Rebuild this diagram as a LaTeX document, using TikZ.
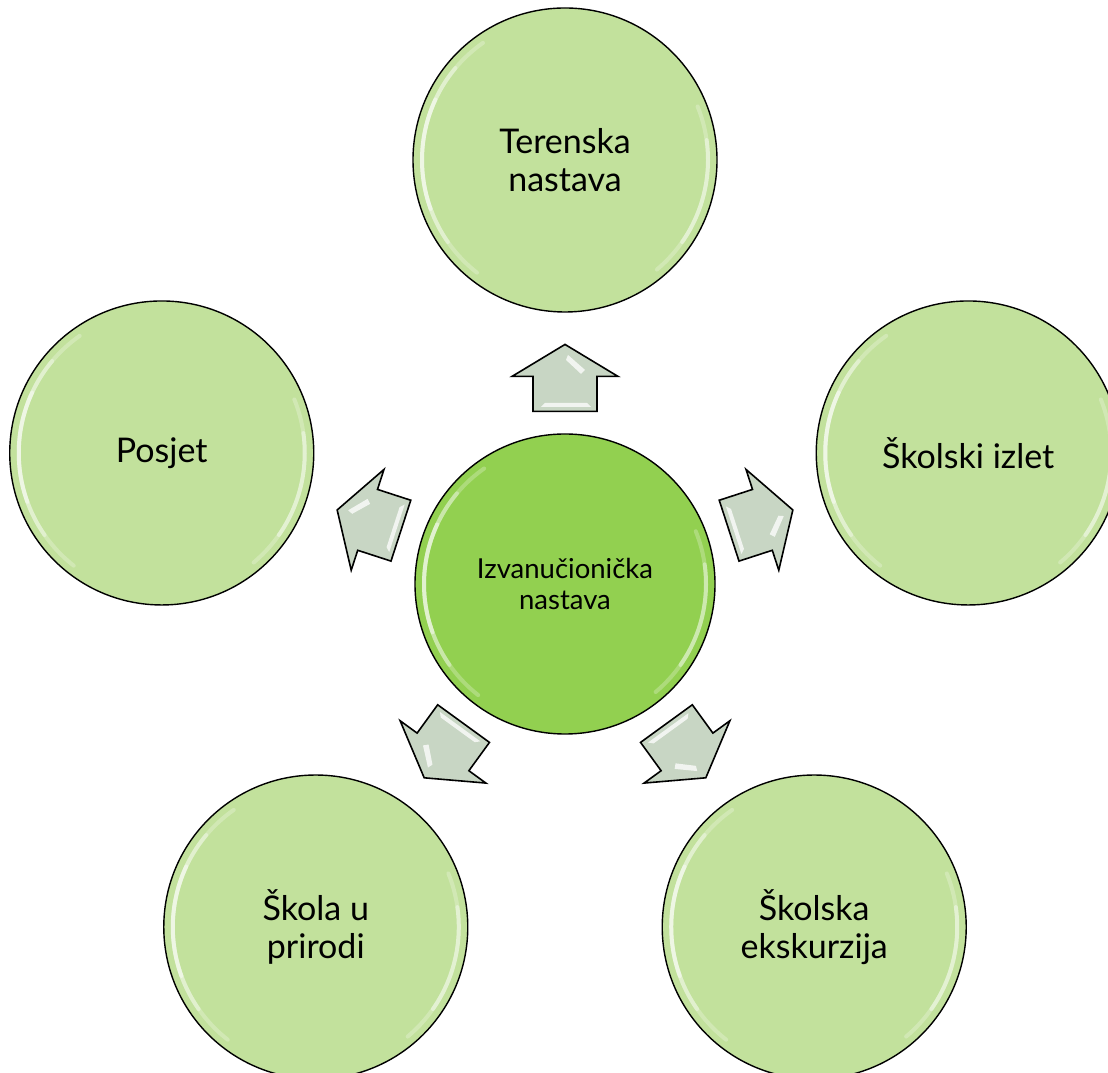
\documentclass[tikz,border=0pt]{standalone}
\usepackage{fontspec}
\setmainfont{Lato}
\usetikzlibrary{calc}
\definecolor{outerfill}{RGB}{194,225,156}
\definecolor{innerfill}{RGB}{146,208,80}
\definecolor{arrfill}{RGB}{200,214,196}
\tikzset{
  bubble/.style={circle, draw=black, line width=1.4pt, fill=outerfill,
    minimum size=304pt, inner sep=0pt, align=center,
    font=\fontsize{34}{38}\selectfont},
  hub/.style={bubble, fill=innerfill, minimum size=300pt,
    font=\fontsize{27.5}{31}\selectfont},
  blockarrow/.style={draw=black, line width=1.6pt, fill=arrfill, line join=miter},
  bevel/.style={fill=white, opacity=0.75},
  gloss/.style={white, line width=4pt, line cap=round},
}
\begin{document}
\begin{tikzpicture}[x=1pt,y=1pt]
\useasboundingbox (0,0) rectangle (1108,1073);
\clip (0,0) rectangle (1108,1073);
\coordinate (o) at (565,489);
\node[hub] (c) at (o) {Izvanučionička\\nastava};
\node[bubble] (t) at ($(o)+(90:424)$) {Terenska\\nastava};
\node[bubble] (r) at ($(o)+(18:424)$) {Školski izlet};
\node[bubble] (br) at ($(o)+(-54:424)$) {Školska\\ekskurzija};
\node[bubble] (bl) at ($(o)+(234:424)$) {Škola u\\prirodi};
\node[bubble] (l) at ($(o)+(162:424)$) {Posjet};
% gloss highlights
\foreach \n/\rr in {t/143,r/143,br/143,bl/143,l/143,c/141}{
  \draw[gloss, opacity=0.25] ($(\n.center)+(125:\rr)$) arc[start angle=125,end angle=232,radius=\rr];
  \draw[gloss, opacity=0.35] ($(\n.center)+(140:\rr)$) arc[start angle=140,end angle=215,radius=\rr];
  \draw[gloss, opacity=0.45] ($(\n.center)+(155:\rr)$) arc[start angle=155,end angle=200,radius=\rr];
  \draw[gloss, opacity=0.25] ($(\n.center)+(-50:\rr)$) arc[start angle=-50,end angle=22,radius=\rr];
  \draw[gloss, opacity=0.40] ($(\n.center)+(-35:\rr)$) arc[start angle=-35,end angle=8,radius=\rr];
}
% block arrows
\foreach \n/\a in {t/90,r/18,br/-54,bl/234,l/162}{
  \begin{scope}[shift={($(c.center)!0.486!(\n.center)$)}, rotate=\a]
    \draw[blockarrow] (-33.5,-32) -- (1.5,-32) -- (1.5,-53) -- (33.5,0)
      -- (1.5,53) -- (1.5,32) -- (-33.5,32) -- cycle;
    \fill[bevel] (-29,-26) -- (-29,24) -- (-25,20) -- (-25,-22) -- cycle;
    \fill[bevel] (23,-3) -- (8,-20) -- (4,-16) -- (18,-1) -- cycle;
  \end{scope}
}
\end{tikzpicture}
\end{document}
